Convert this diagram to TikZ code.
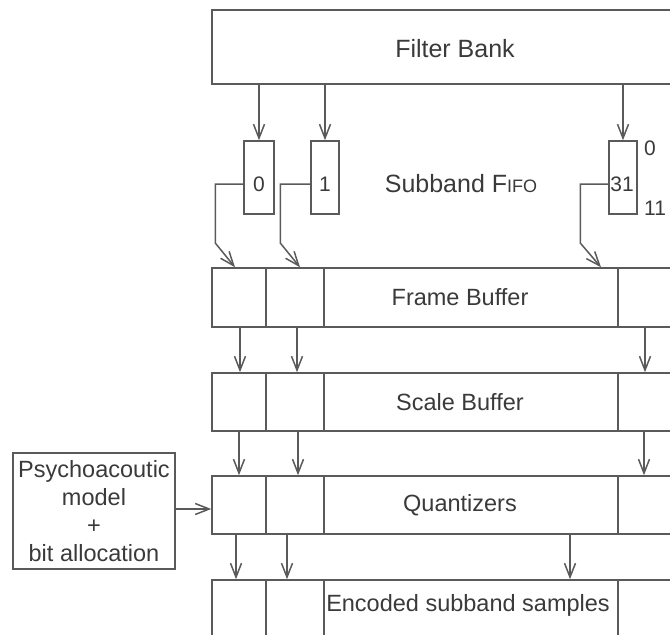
\documentclass[tikz,border=0pt]{standalone}
\usepackage{fontspec}
\setmainfont{Liberation Sans}
\usetikzlibrary{arrows.meta,calc}
\definecolor{ln}{HTML}{5A5A5A}
\definecolor{tx}{HTML}{3A3A3A}
\begin{document}
\begin{tikzpicture}[x=1pt,y=-1pt,
  box/.style={draw=ln,line width=1.5pt,inner sep=0pt,text=tx,font=\fontsize{23.5}{28}\selectfont},
  lab/.style={inner sep=0pt,text=tx,font=\fontsize{23.5}{28}\selectfont},
  slab/.style={inner sep=0pt,text=tx,font=\fontsize{21}{25}\selectfont},
  divline/.style={draw=ln,line width=1.5pt},
  arr/.style={draw=ln,line width=1.5pt,-{Straight Barb[length=14pt,width=11pt,line width=1.5pt]}}]
\useasboundingbox (0,0) rectangle (670,635);
\clip (0,0) rectangle (670,635);
% Filter bank
\node[box,minimum width=496pt,minimum height=74pt] (fb) at (460,47) {};
\node[lab,font=\fontsize{25}{30}\selectfont] (fbtext) at (455,49) {Filter Bank};
% FIFO boxes
\node[box,minimum width=30pt,minimum height=73pt] (f0) at (259,177.5) {};
\node[box,minimum width=28pt,minimum height=73pt] (f1) at (325,177.5) {};
\node[box,minimum width=28pt,minimum height=73pt] (f31) at (623,177.5) {};
\node[slab] (l0) at (259,184) {0};
\node[slab] (l1) at (325,184) {1};
\node[slab] (l31) at (622,184) {31};
\node[slab,anchor=west] (top0) at (644,148) {0};
\node[slab,anchor=west] (bot11) at (644,208) {11};
\node[lab,font=\fontsize{25}{30}\selectfont] (sf) at (461,184) {Subband F{\fontsize{18}{22}\selectfont IFO}};
% rows
\node[box,minimum width=496pt,minimum height=59pt] (frame) at (460,297.5) {Frame Buffer};
\node[box,minimum width=496pt,minimum height=58pt] (scale) at (460,402) {Scale Buffer};
\node[box,minimum width=496pt,minimum height=58pt] (quant) at (460,505) {Quantizers};
\node[box,minimum width=496pt,minimum height=62pt] (enc) at (460,611) {};
\node[lab] (enctext) at (468,605) {Encoded subband samples};
% dividers
\coordinate (d1) at (266,0);
\coordinate (d2) at (324,0);
\coordinate (d3) at (618,0);
\foreach \r in {frame,scale,quant,enc}{
  \foreach \d in {d1,d2,d3}{
    \draw[divline] (\r.north -| \d) -- (\r.south -| \d);
  }
}
% filter bank to fifo
\draw[arr] (fb.south -| f0) -- (f0.north);
\draw[arr] (fb.south -| f1) -- (f1.north);
\draw[arr] (fb.south -| f31) -- (f31.north);
% fifo to frame buffer
\coordinate (c0) at (235,0);
\coordinate (c1) at (300,0);
\coordinate (c31) at (601,0);
\draw[arr] (f0.west |- l0) -- ++(-28,0) -- ++(0,59) -- (frame.north -| c0);
\draw[arr] (f1.west |- l1) -- ++(-30,0) -- ++(0,59) -- (frame.north -| c1);
\draw[arr] (f31.west |- l31) -- ++(-28,0) -- ++(0,59) -- (frame.north -| c31);
% frame to scale
\coordinate (a1) at (240,0);
\coordinate (a2) at (297,0);
\coordinate (a3) at (645,0);
\foreach \a in {a1,a2,a3}{
  \draw[arr] (frame.south -| \a) -- (scale.north -| \a);
}
% scale to quant
\coordinate (b1) at (239,0);
\coordinate (b2) at (298,0);
\coordinate (b3) at (644,0);
\foreach \b in {b1,b2,b3}{
  \draw[arr] (scale.south -| \b) -- (quant.north -| \b);
}
% quant to encoded
\coordinate (e1) at (236,0);
\coordinate (e2) at (287,0);
\coordinate (e3) at (570,0);
\foreach \e in {e1,e2,e3}{
  \draw[arr] (quant.south -| \e) -- (enc.north -| \e);
}
% psychoacoustic model
\node[box,minimum width=162pt,minimum height=116pt,align=center] (psy) at (94,511) {Psychoacoutic\\model\\+\\bit allocation};
\coordinate (py) at (0,509);
\draw[arr] (psy.east |- py) -- (quant.west |- py);
\end{tikzpicture}
\end{document}
